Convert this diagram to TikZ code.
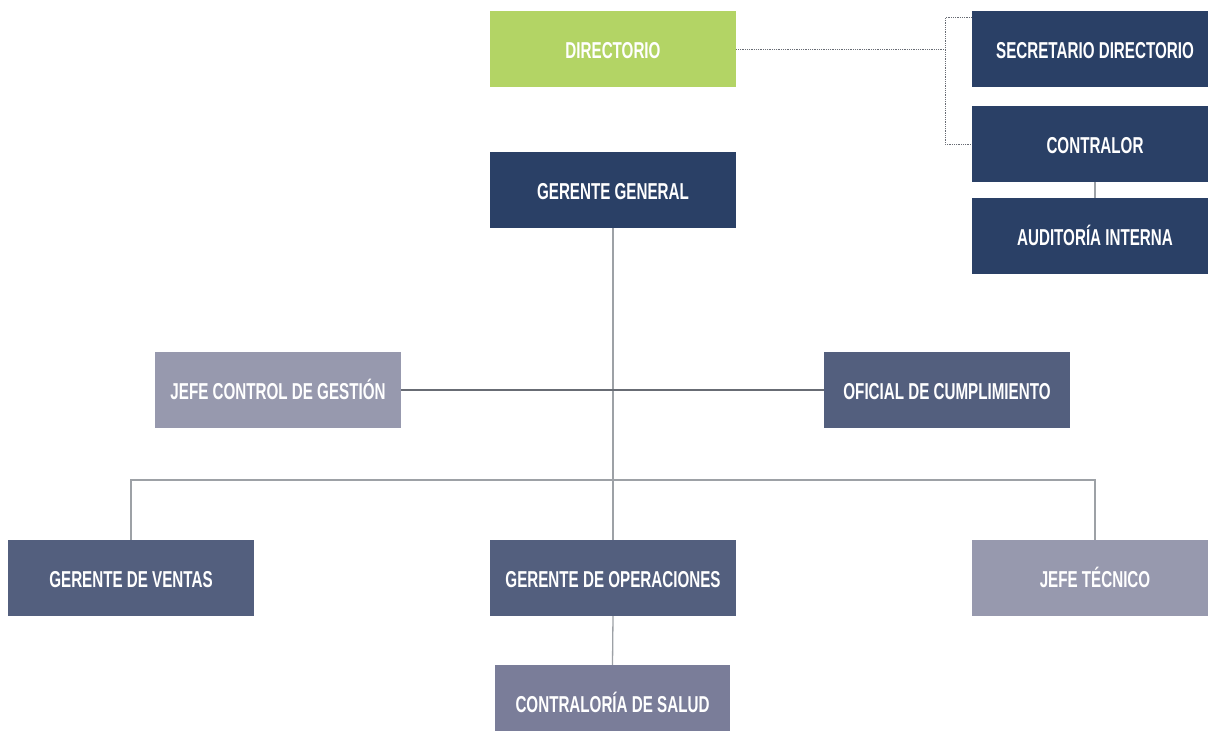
\documentclass[tikz,border=0pt]{standalone}
\usepackage{fontspec}
\setmainfont[FakeStretch=0.66]{Liberation Sans}
\usetikzlibrary{calc}
\definecolor{cgreen}{HTML}{B3D465}
\definecolor{cnavy}{HTML}{2A4066}
\definecolor{cslate}{HTML}{535F7E}
\definecolor{clight}{HTML}{9799AE}
\definecolor{cmid}{HTML}{7A7D99}
\definecolor{cdark}{HTML}{686C74}
\definecolor{cline}{HTML}{9DA1A6}
\tikzset{
  box/.style={rectangle, inner sep=0pt, minimum width=246pt, minimum height=76pt,
    text height=18pt, text depth=0pt,
    text=white, font=\bfseries\fontsize{23}{25}\selectfont},
  dotline/.style={draw=cdark, line width=0.8pt, densely dotted},
  darkline/.style={draw=cdark, line width=1.1pt},
  lightline/.style={draw=cline, line width=1.3pt},
}
\begin{document}
\begin{tikzpicture}[x=1pt,y=-1pt]
\useasboundingbox (0,0) rectangle (1208,731);
% nodes
\node[box, fill=cgreen] (dir) at (613,49) {DIRECTORIO};
\node[box, fill=cnavy] (sec) at (1095,49) {SECRETARIO DIRECTORIO};
\node[box, fill=cnavy] (con) at (1095,144) {CONTRALOR};
\node[box, fill=cnavy] (aud) at (1095,236) {AUDITORÍA INTERNA};
\node[box, fill=cnavy] (gg) at (613,190) {GERENTE GENERAL};
\node[box, fill=clight] (jcg) at (278,390) {JEFE CONTROL DE GESTIÓN};
\node[box, fill=cslate] (ofi) at (947,390) {OFICIAL DE CUMPLIMIENTO};
\node[box, fill=cslate] (gv) at (131,578) {GERENTE DE VENTAS};
\node[box, fill=cslate] (gop) at (613,578) {GERENTE DE OPERACIONES};
\node[box, fill=clight] (jt) at (1095,578) {JEFE TÉCNICO};
\node[box, fill=cmid, minimum width=235pt] (cs) at (612.5,703) {CONTRALORÍA DE SALUD};
% coordinates
\coordinate (dj) at (945,49);
\coordinate (bus) at (613,480);
\coordinate (stop) at ($(sec.north west)+(0,7)$);
% connectors
\draw[dotline] (dir.east) -- (dj);
\draw[dotline] (stop) -- (stop -| dj) -- (con.west -| dj) -- (con.west);
\draw[lightline] (con.south) -- (aud.north);
\draw[lightline] (gg.south) -- (gop.north);
\draw[darkline] (jcg.east) -- (ofi.west);
\draw[lightline] (gv.north) |- (bus) -| (jt.north);
\draw[lightline] (gop.south) -- (cs.north);
\end{tikzpicture}
\end{document}
